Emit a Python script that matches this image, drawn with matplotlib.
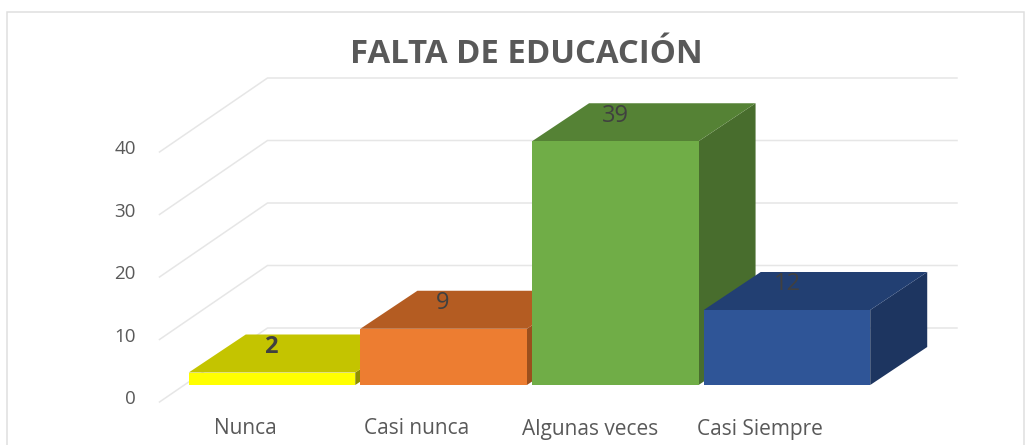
import matplotlib
matplotlib.use("Agg")
import matplotlib.pyplot as plt
from matplotlib.patches import Polygon, Rectangle

categories = ["Nunca", "Casi nunca", "Algunas veces", "Casi Siempre"]
values = [2, 9, 39, 12]
y_ticks = [0, 10, 20, 30, 40]
title = "FALTA DE EDUCACIÓN"

front_colors = ["#ffff00", "#ed7d31", "#70ad47", "#2f5597"]
top_colors = ["#c4c400", "#b45c22", "#558235", "#223f72"]
side_colors = ["#8f8f00", "#9b4f1d", "#486d2d", "#1d3560"]

# pixels per unit, the whole figure is one axes
PX_X = 172.0
PX_Y = 6.25
X0 = 272.0
Y0 = 402.0
W, H = 1030, 445

fig = plt.figure(figsize=(W / 100, H / 100), dpi=100)
ax = fig.add_axes([0, 0, 1, 1])
ax.set_xlim((0 - X0) / PX_X, (W - X0) / PX_X)
ax.set_ylim((Y0 - H) / PX_Y, Y0 / PX_Y)
ax.axis("off")
plt.rcParams["font.family"] = ["Open Sans", "DejaVu Sans"]

grid_color = "#e6e6e6"
text_color = "#595959"

# depth of the floor and of the bars, in data units
wall_dx = 108 / PX_X
wall_dy = 74 / PX_Y
bar_dx = 57 / PX_X
bar_dy = 38 / PX_Y
bar_width = 166.5 / PX_X
bar_base = 17 / PX_Y

x_front = (159.5 - X0) / PX_X
x_end = (957 - X0) / PX_X

# chart frame
ax.add_patch(Rectangle(((7 - X0) / PX_X, (Y0 - 470) / PX_Y), 1017 / PX_X, 458 / PX_Y,
                       fill=False, edgecolor="#dfdfdf", linewidth=1.1, zorder=1))

for t in y_ticks:
    ax.plot([x_front, x_front + wall_dx, x_end], [t, t + wall_dy, t + wall_dy],
            color=grid_color, linewidth=1.1, solid_joinstyle="miter", zorder=2)
    ax.text((136 - X0) / PX_X, t + 0.45, str(t), ha="right", va="center",
            fontsize=13.5, color=text_color, zorder=6)

label_x = [245, 417, 590, 760]

for i, v in enumerate(values):
    left = i - bar_width / 2 - 0.002 * i
    right = left + bar_width
    top = bar_base + v
    z = 3 + i * 0.1
    ax.add_patch(Polygon([(right, bar_base), (right + bar_dx, bar_base + bar_dy),
                          (right + bar_dx, top + bar_dy), (right, top)],
                         facecolor=side_colors[i], edgecolor="none", zorder=z))
    ax.add_patch(Polygon([(left, top), (right, top), (right + bar_dx, top + bar_dy),
                          (left + bar_dx, top + bar_dy)],
                         facecolor=top_colors[i], edgecolor="none", zorder=z))
    ax.add_patch(Rectangle((left, bar_base), bar_width, v,
                           facecolor=front_colors[i], edgecolor="none", zorder=z))
    ax.text(i - 1 / PX_X, top + 25.5 / PX_Y, str(v), ha="center", va="center", fontsize=17,
            color="#404040", fontweight="bold" if v == 2 else "normal", zorder=6)
    ax.text((label_x[i] - X0) / PX_X, (Y0 - 429) / PX_Y, categories[i], ha="center", va="center",
            fontsize=15, color=text_color, zorder=6)

ax.text((526.5 - X0) / PX_X, (Y0 - 55) / PX_Y, title, ha="center", va="center",
        fontsize=23.7, fontweight="bold", color=text_color, zorder=6)

fig.savefig("out.png", dpi=100)
